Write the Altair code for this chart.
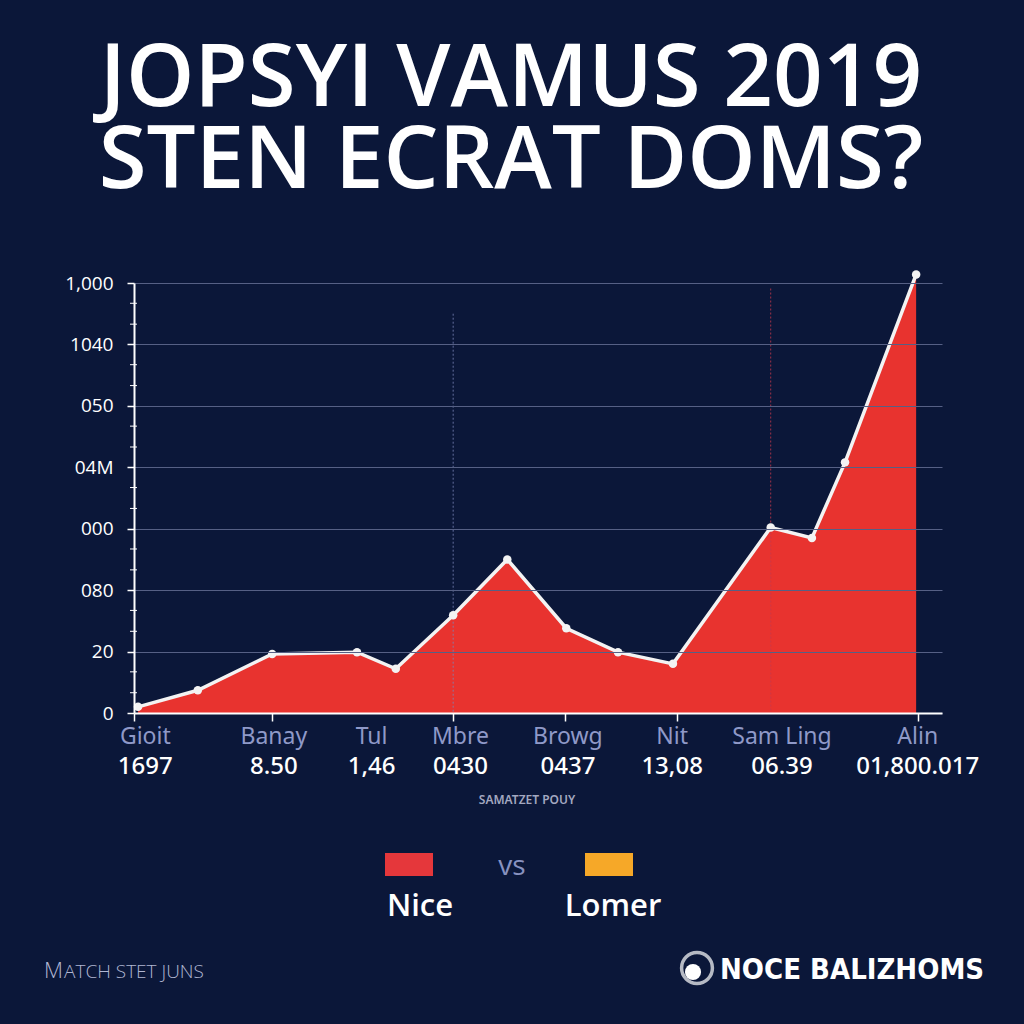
import altair as alt
import pandas as pd

# ---------------- data ----------------
point_x = [0.5, 7.9, 17.1, 27.6, 32.4, 39.5, 46.2, 53.5, 59.9, 66.7, 78.8, 83.9, 88.0, 96.8]
point_y = [10, 37, 96, 99, 72, 159, 250, 138, 99, 80, 302, 285, 408, 714]

y_tick_values = [0, 100, 200, 300, 400, 500, 600, 700]
y_tick_labels = ["0", "20", "080", "000", "04M", "050", "1040", "1,000"]
y_minor_values = [33, 67, 133, 167, 233, 267, 333, 367, 433, 467, 533, 567, 633, 667]

categories = ["Gioit", "Banay", "Tul", "Mbre", "Browg", "Nit", "Sam Ling", "Alin"]
category_numbers = ["1697", "8.50", "1,46", "0430", "0437", "13,08", "06.39", "01,800.017"]
category_x = [1.4, 17.3, 29.4, 40.4, 53.7, 66.6, 80.2, 97.0]
x_tick_values = [0, 17.1, 39.5, 53.4, 67.2, 97.0]

marker_x = [39.5, 78.8]
marker_top = [650, 691]
marker_colors = ["#7a86b6", "#c73a4c"]

legend_names = ["Nice", "Lomer"]
legend_colors = ["#e5373b", "#f6a828"]

title_lines = ["JOPSYI VAMUS 2019", "STEN ECRAT DOMS?"]
source_note = "SAMATZET POUY"
footer_left_cap = "M"
footer_left_rest = "ATCH STET JUNS"
brand = "NOCE BALIZHOMS"

# ---------------- layout ----------------
W, H = 808, 430
PAD_L, PAD_T = 134, 283
BG = "#0b1739"


def px(x):
    return x - PAD_L


def py(y):
    return y - PAD_T


series = pd.DataFrame({"x": point_x, "y": point_y})
xs = alt.Scale(domain=[0, 100], nice=False, zero=False)
ys = alt.Scale(domain=[0, 700], nice=False)

label_expr = "[" + ",".join("'" + s + "'" for s in y_tick_labels) + "][round(datum.value/100)]"

X_AXIS = alt.Axis(
    values=x_tick_values, labels=False, grid=False, title=None,
    domainColor="#ffffff", domainWidth=2, tickColor="#ffffff",
    tickSize=8, tickWidth=1.5, zindex=1)
Y_AXIS = alt.Axis(
    values=y_tick_values, labelExpr=label_expr, grid=True,
    gridColor="#566085", gridWidth=1, title=None,
    domainColor="#ffffff", domainWidth=2, tickColor="#ffffff",
    tickSize=7, tickWidth=1.5, labelColor="#ffffff",
    labelFont="Open Sans", labelFontSize=19, labelFontWeight=500,
    labelPadding=14, zindex=1)


def X(field):
    return alt.X(field, scale=xs, axis=X_AXIS)


def Y(field):
    return alt.Y(field, scale=ys, axis=Y_AXIS)


minor = alt.Chart(pd.DataFrame({"y": y_minor_values})).mark_rule(
    color="#ffffff", strokeWidth=1
).encode(y=Y("y:Q"), x=alt.value(-4), x2=alt.value(3))

area = alt.Chart(series).mark_area(color="#e8332f", opacity=1).encode(x=X("x:Q"), y=Y("y:Q"))

markers = alt.Chart(pd.DataFrame({"x": marker_x, "top": marker_top, "c": marker_colors})).mark_rule(
    strokeWidth=1, strokeDash=[2, 2], opacity=0.8
).encode(
    x=X("x:Q"),
    y=Y("top:Q"),
    y2=alt.datum(0),
    color=alt.Color("c:N", scale=None),
)

line = alt.Chart(series).mark_line(color="#f3f3f3", strokeWidth=3.5).encode(x=X("x:Q"), y=Y("y:Q"))

points = alt.Chart(series).mark_circle(color="#f3f3f3", size=72, opacity=1).encode(x=X("x:Q"), y=Y("y:Q"))

cats = pd.DataFrame({"x": category_x, "name": categories, "num": category_numbers})
cat_names = alt.Chart(cats).mark_text(
    font="Noto Sans", fontSize=23, color="#8f99c8", baseline="middle", align="center"
).encode(x=X("x:Q"), y=alt.value(py(737)), text="name:N")
cat_nums = alt.Chart(cats).mark_text(
    font="Noto Sans", fontSize=24, fontWeight=500, color="#ffffff", baseline="middle", align="center"
).encode(x=X("x:Q"), y=alt.value(py(767)), text="num:N")


def text_layer(txt, x, y, **kw):
    return alt.Chart(pd.DataFrame({"t": [txt]})).mark_text(**kw).encode(
        text="t:N", x=alt.value(px(x)), y=alt.value(py(y))
    )


title = alt.Chart(pd.DataFrame({"a": [0]})).mark_text(
    text=title_lines, lineHeight=82, font="Open Sans", fontSize=87, fontWeight=600,
    color="#ffffff", align="center", baseline="alphabetic"
).encode(x=alt.value(px(511)), y=alt.value(py(106)))

note = text_layer(source_note, 527, 800, font="Noto Sans", fontSize=12, fontWeight=600,
                  color="#a3a8c0", align="center", baseline="middle")

leg_layers = []
for name, col, x0, tx in zip(legend_names, legend_colors, [385, 585], [420, 613]):
    leg_layers.append(
        alt.Chart(pd.DataFrame({"a": [0]})).mark_rect(color=col).encode(
            x=alt.value(px(x0)), x2=alt.value(px(x0 + 48)),
            y=alt.value(py(853)), y2=alt.value(py(876)))
    )
    leg_layers.append(text_layer(name, tx, 916, font="Open Sans", fontSize=31, fontWeight=600,
                                 color="#ffffff", align="center", baseline="alphabetic"))
vs = text_layer("vs", 512, 867, font="Open Sans", fontSize=28, fontWeight=500,
                color="#8892c0", align="center", baseline="middle")

foot_m = text_layer(footer_left_cap, 44, 978, font="Open Sans", fontSize=22, fontWeight=300,
                    color="#b0b6d2", align="left", baseline="alphabetic")
foot_rest = text_layer(footer_left_rest, 64, 978, font="Open Sans", fontSize=19, fontWeight=300,
                       color="#b0b6d2", align="left", baseline="alphabetic")

ring = alt.Chart(pd.DataFrame({"a": [0]})).mark_point(
    shape="circle", filled=False, stroke="#ffffff", strokeWidth=3.5, size=950
).encode(x=alt.value(px(697)), y=alt.value(py(968)))
blob = alt.Chart(pd.DataFrame({"a": [0]})).mark_point(
    shape="circle", filled=True, color="#ffffff", opacity=1, size=260
).encode(x=alt.value(px(693)), y=alt.value(py(972)))
brand_t = text_layer(brand, 720, 979, font="DejaVu Sans Condensed", fontSize=29, fontWeight="bold",
                     color="#ffffff", align="left", baseline="alphabetic")

chart = alt.layer(
    minor, area, markers, line, points, cat_names, cat_nums,
    title, note, *leg_layers, vs, foot_m, foot_rest, ring, blob, brand_t
).properties(
    width=W, height=H,
    autosize=alt.AutoSizeParams(type="none"),
    padding={"left": PAD_L, "top": PAD_T, "right": 1024 - PAD_L - W, "bottom": 1024 - PAD_T - H},
    background=BG,
).configure_view(stroke=None)

chart.save("out.html", embed_options={"renderer": "svg", "actions": False})
